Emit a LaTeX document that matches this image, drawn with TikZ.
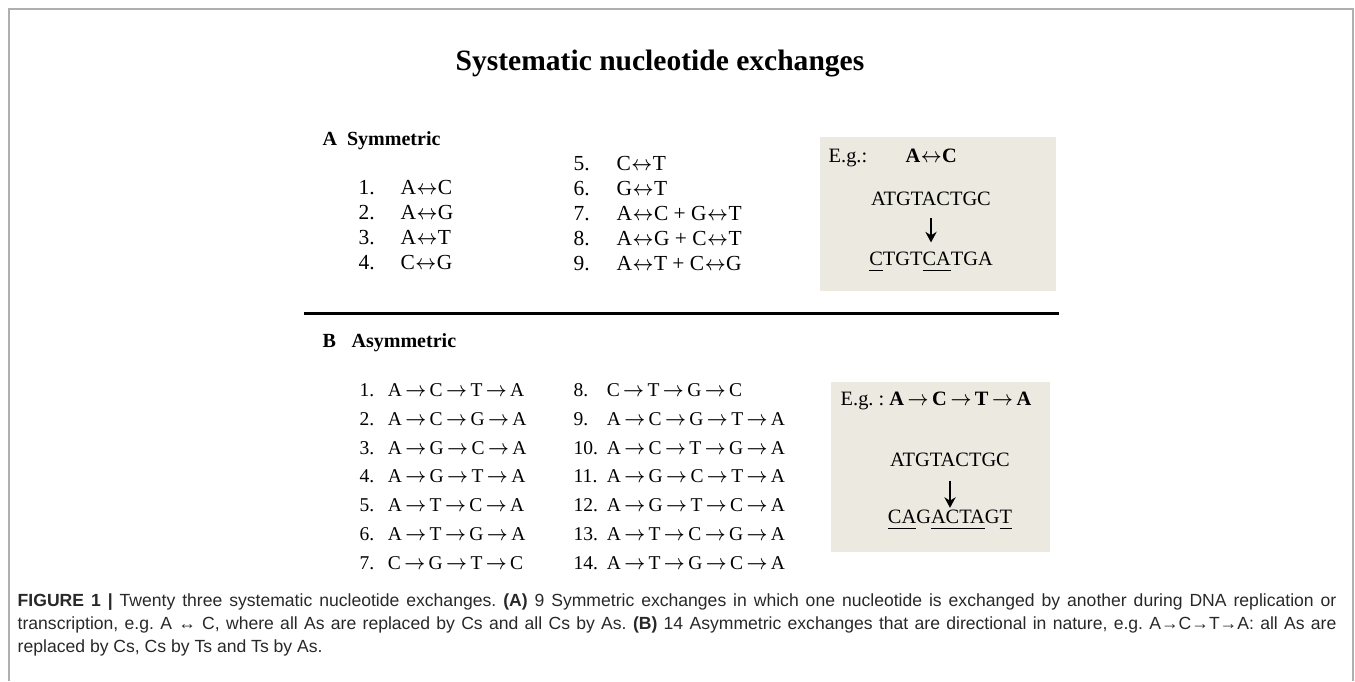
\documentclass[tikz,border=0pt]{standalone}
\usepackage{graphicx}
\usepackage{fontspec}
\setmainfont{Liberation Serif}
\newfontfamily\capfont{Liberation Sans}
\usetikzlibrary{arrows.meta,positioning}
\definecolor{egbeige}{RGB}{236,233,224}
\definecolor{framegray}{RGB}{175,175,175}
\definecolor{capgray}{RGB}{40,40,40}
\newcommand{\itemno}[2]{\makebox[#1][l]{#2}}
\newcommand{\swap}{\scalebox{0.85}[1]{$\leftrightarrow$}}
\newcommand{\tofwd}{\hspace{0.15em}\scalebox{0.85}[1]{$\rightarrow$}\hspace{0.15em}}
\frenchspacing

\begin{document}
\begin{tikzpicture}[x=0.01cm,y=-0.01cm,>=Latex,
title/.style={font=\fontsize{8.4}{10}\selectfont\bfseries,inner sep=0pt},
head/.style={font=\fontsize{5.7}{7}\selectfont\bfseries,inner sep=0pt,anchor=west},
symlist/.style={font=\fontsize{6.1}{7.06}\selectfont,align=left,inner sep=0pt,anchor=north west},
asymlist/.style={font=\fontsize{5.55}{8.17}\selectfont,align=left,inner sep=0pt,anchor=north west},
eg/.style={font=\fontsize{5.8}{7}\selectfont,inner sep=0pt,text height=3.9pt,text depth=0.9pt},
arrow/.style={-{Stealth[length=3pt,width=3.2pt]},line width=0.8pt},
capline/.style={font=\capfont\fontsize{5.0}{6}\selectfont,text=capgray,inner sep=0pt,anchor=west}]
\useasboundingbox (0,0) rectangle (1355,681);
\draw[framegray,line width=0.6pt] (9,681) -- (9,9) -- (1353,9) -- (1353,681);

\node[title] (title) at (660,64) {Systematic nucleotide exchanges};

% A: symmetric exchanges
\node[head] (symhead) at (322,141) {A\hspace{2.8pt}Symmetric};
\node[symlist] (symleft) at (358,180) {\itemno{11.9pt}{1.}A\swap C\\ \itemno{11.9pt}{2.}A\swap G\\
  \itemno{11.9pt}{3.}A\swap T\\ \itemno{11.9pt}{4.}C\swap G};
\node[symlist] (symright) at (573,156) {\itemno{12.2pt}{5.}C\swap T\\ \itemno{12.2pt}{6.}G\swap T\\
  \itemno{12.2pt}{7.}A\swap C + G\swap T\\ \itemno{12.2pt}{8.}A\swap G + C\swap T\\
  \itemno{12.2pt}{9.}A\swap T + C\swap G};

\fill[egbeige] (820,137) rectangle (1056,291);
\node[eg,anchor=west] (egsym) at (828,157) {E.g.:};
\node[eg,right=10.5pt of egsym] (egsympair) {\textbf{A\swap C}};
\node[eg] (seqsym1) at (931,200) {ATGTACTGC};
\node[eg] (seqsym2) at (931,260) {\underline{C}TGT\underline{CA}TGA};
\draw[arrow,shorten <=2.4pt,shorten >=2.4pt] (seqsym1) -- (seqsym2);

\draw[line width=0.85pt] (304,313) -- (1059,313);

% B: asymmetric exchanges
\node[head] (asymhead) at (322,343) {B\hspace{4.4pt}Asymmetric};
\node[asymlist] (asymleft) at (359,383) {\itemno{8pt}{1.}A\tofwd C\tofwd T\tofwd A\\
  \itemno{8pt}{2.}A\tofwd C\tofwd G\tofwd A\\ \itemno{8pt}{3.}A\tofwd G\tofwd C\tofwd A\\
  \itemno{8pt}{4.}A\tofwd G\tofwd T\tofwd A\\ \itemno{8pt}{5.}A\tofwd T\tofwd C\tofwd A\\
  \itemno{8pt}{6.}A\tofwd T\tofwd G\tofwd A\\ \itemno{8pt}{7.}C\tofwd G\tofwd T\tofwd C};
\node[asymlist] (asymright) at (573,383) {\itemno{9.4pt}{8.}C\tofwd T\tofwd G\tofwd C\\
  \itemno{9.4pt}{9.}A\tofwd C\tofwd G\tofwd T\tofwd A\\ \itemno{9.4pt}{10.}A\tofwd C\tofwd T\tofwd G\tofwd A\\
  \itemno{9.4pt}{11.}A\tofwd G\tofwd C\tofwd T\tofwd A\\ \itemno{9.4pt}{12.}A\tofwd G\tofwd T\tofwd C\tofwd A\\
  \itemno{9.4pt}{13.}A\tofwd T\tofwd C\tofwd G\tofwd A\\ \itemno{9.4pt}{14.}A\tofwd T\tofwd G\tofwd C\tofwd A};

\fill[egbeige] (831,382) rectangle (1050,552);
\node[eg,anchor=west] (egasym) at (840,400) {E.g. : \textbf{A\tofwd C\tofwd T\tofwd A}};
\node[eg] (seqasym1) at (950,461) {ATGTACTGC};
\node[eg] (seqasym2) at (950,518) {\underline{CA}G\underline{ACTA}G\underline{T}};
\draw[arrow,shorten <=3pt,shorten >=0.3pt] (seqasym1) -- (seqasym2);

% caption
\node[capline] (cap1) at (17,602) {\makebox[375pt][s]{\textbf{FIGURE 1 |} Twenty three systematic nucleotide exchanges. \textbf{(A)} 9 Symmetric exchanges in which one nucleotide is exchanged by another during DNA replication or}};
\node[capline] (cap2) at (17,625) {\makebox[375pt][s]{transcription, e.g. A ↔ C, where all As are replaced by Cs and all Cs by As. \textbf{(B)} 14 Asymmetric exchanges that are directional in nature, e.g. A→C→T→A: all As are}};
\node[capline] (cap3) at (17,648) {replaced by Cs, Cs by Ts and Ts by As.};
\end{tikzpicture}
\end{document}
